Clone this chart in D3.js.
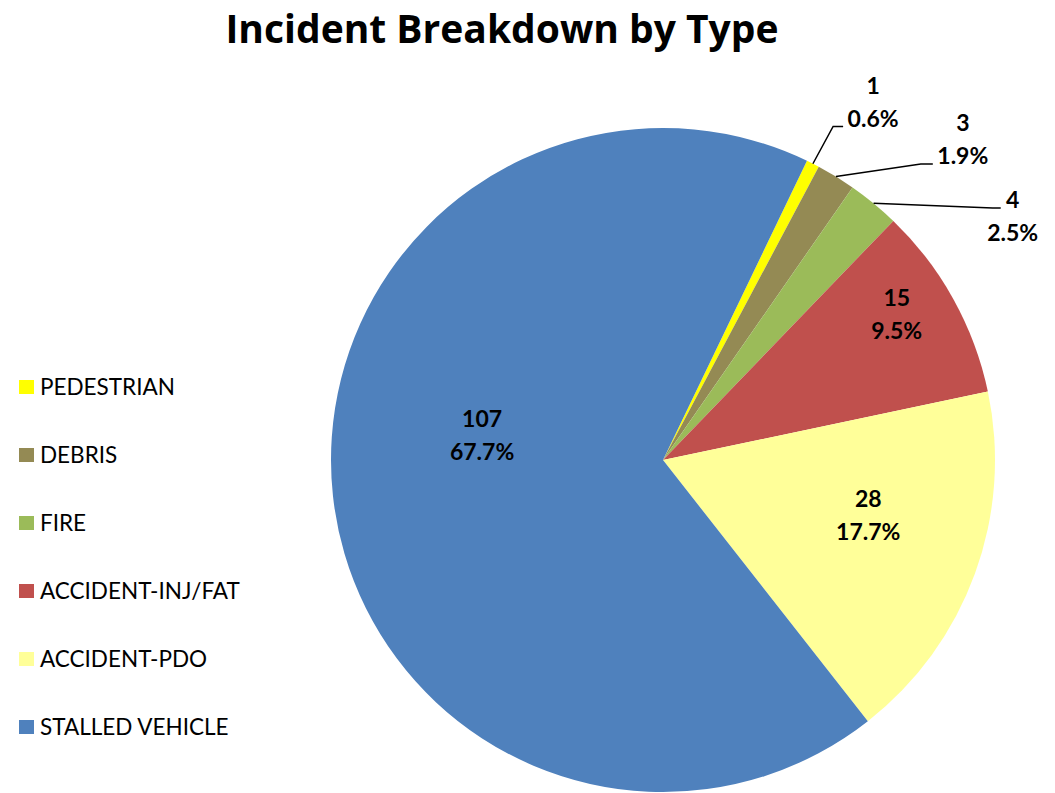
<!DOCTYPE html>
<html>
<head>
<meta charset="utf-8">
<script src="https://cdn.jsdelivr.net/npm/d3@7"></script>
<style>
  body { margin: 0; background: #fff; }
  text { font-family: Lato, "Open Sans", sans-serif; }
</style>
</head>
<body>
<svg id="chart" width="1055" height="793"></svg>
<script>
// data
var categories = ["PEDESTRIAN", "DEBRIS", "FIRE", "ACCIDENT-INJ/FAT", "ACCIDENT-PDO", "STALLED VEHICLE"]
var counts = [1, 3, 4, 15, 28, 107]
var percents = ["0.6%", "1.9%", "2.5%", "9.5%", "17.7%", "67.7%"]
var colors = ["#FFFF00", "#948A54", "#9BBB59", "#C0504D", "#FFFF99", "#4F81BD"]

var svg = d3.select("#chart"),
    width = +svg.attr("width"),
    height = +svg.attr("height")

var cx = 663, cy = 460, radius = 332
var startDeg = 25.7

var data = categories.map((c, i) => ({ name: c, value: counts[i], pct: percents[i], color: colors[i] }))

var pie = d3.pie()
    .sort(null)
    .value(d => d.value)
    .startAngle(startDeg * Math.PI / 180)
    .endAngle((startDeg + 360) * Math.PI / 180)

var arc = d3.arc().innerRadius(0).outerRadius(radius)

var arcs = pie(data)

svg.append("text")
    .attr("x", 502)
    .attr("y", 43)
    .attr("text-anchor", "middle")
    .style("font-family", "'Open Sans', Lato, sans-serif")
    .style("font-size", "39px")
    .style("font-weight", "bold")
    .text("Incident Breakdown by Type")

var g = svg.append("g").attr("transform", `translate(${cx},${cy})`)

g.selectAll("path.slice")
    .data(arcs)
    .enter().append("path")
    .attr("class", "slice")
    .attr("d", arc)
    .attr("fill", d => d.data.color)

function polar(deg, r) {
    var a = deg * Math.PI / 180
    return [Math.sin(a) * r, -Math.cos(a) * r]
}
function midDeg(d) { return (d.startAngle + d.endAngle) / 2 * 180 / Math.PI }

// label placement: inside labels at a fraction of the radius, outside labels with leaders
var inside = { 3: { da: -3, f: 0.83 }, 4: { da: -5, f: 0.64 }, 5: { da: 14, f: 0.55 } }
var outside = {
    0: { a: 31.6, r: 401, lead: [-30, 8], elbow: -10 },
    1: { a: 44.6, r: 427, lead: [-30, 8], elbow: -12 },
    2: { a: 57.0, r: 417, lead: [-12, -25], elbow: -8 }
}

var lineH = 33

arcs.forEach(function (d, i) {
    var pos, lab
    if (inside[i]) {
        pos = polar(midDeg(d) + inside[i].da, radius * inside[i].f)
        lab = g.append("g").attr("transform", `translate(${pos[0]},${pos[1] - lineH / 2})`)
    } else {
        var o = outside[i]
        pos = polar(o.a, o.r)
        lab = g.append("g").attr("transform", `translate(${pos[0]},${pos[1] - lineH})`)
        var start = polar(midDeg(d), radius)
        var end = [pos[0] + o.lead[0], pos[1] + o.lead[1]]
        var elbow = [end[0] + o.elbow, end[1]]
        g.append("polyline")
            .attr("points", [start, elbow, end].map(p => p.join(",")).join(" "))
            .attr("fill", "none")
            .attr("stroke", "#000")
            .attr("stroke-width", 1.5)
    }
    lab.append("text")
        .attr("text-anchor", "middle")
        .attr("dy", "0.35em")
        .style("font-size", "23px")
        .style("font-weight", "bold")
        .text(d.data.value)
    lab.append("text")
        .attr("text-anchor", "middle")
        .attr("y", lineH)
        .attr("dy", "0.35em")
        .style("font-size", "23px")
        .style("font-weight", "bold")
        .text(d.data.pct)
})

// legend
var legend = svg.selectAll("g.legend")
    .data(data)
    .enter().append("g")
    .attr("class", "legend")
    .attr("transform", (d, i) => `translate(19,${387 + i * 68})`)

legend.append("rect")
    .attr("x", 0)
    .attr("y", -7)
    .attr("width", 15)
    .attr("height", 14)
    .attr("fill", d => d.color)

legend.append("text")
    .attr("x", 21)
    .attr("dy", "0.36em")
    .style("font-size", "22.5px")
    .text(d => d.name)
</script>
</body>
</html>
